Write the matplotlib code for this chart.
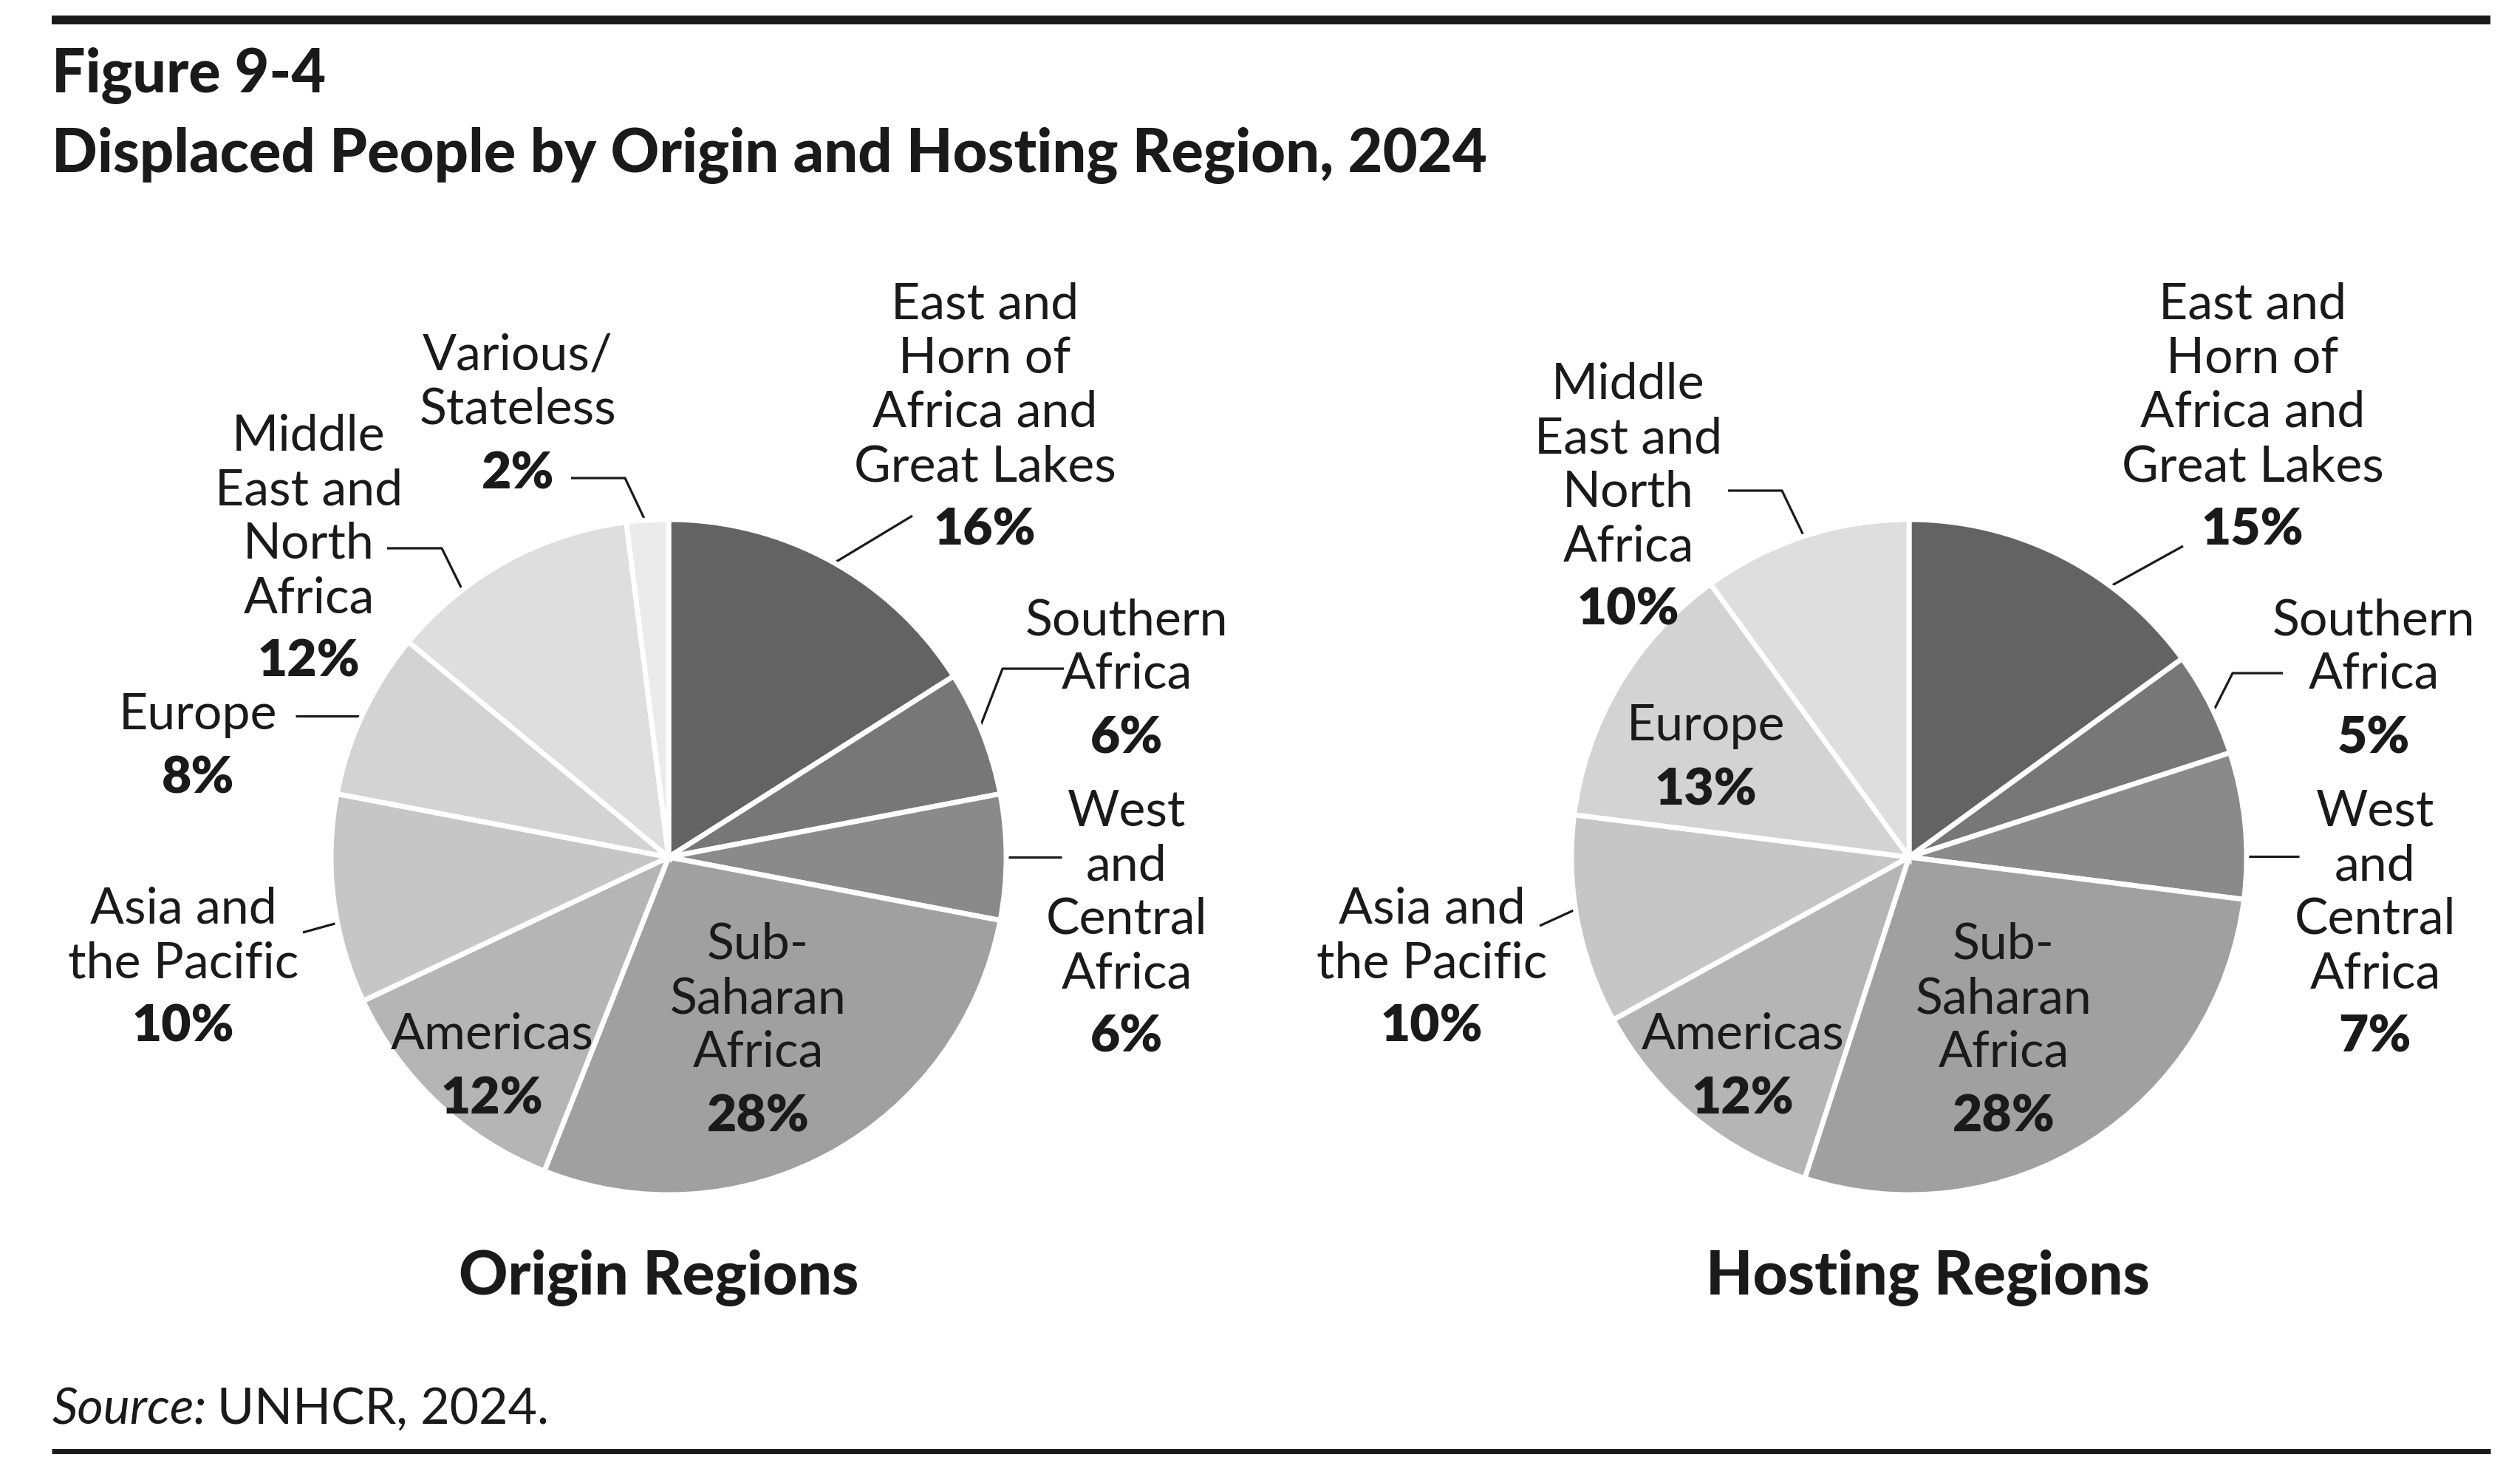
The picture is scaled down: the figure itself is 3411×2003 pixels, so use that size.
import matplotlib
matplotlib.use("Agg")
import matplotlib.pyplot as plt
import numpy as np

# ---------------- data ----------------
origin_labels = ["East and\nHorn of\nAfrica and\nGreat Lakes", "Southern\nAfrica",
                 "West\nand\nCentral\nAfrica", "Sub-\nSaharan\nAfrica", "Americas",
                 "Asia and\nthe Pacific", "Europe", "Middle\nEast and\nNorth\nAfrica",
                 "Various/\nStateless"]
origin_values = [16, 6, 6, 28, 12, 10, 8, 12, 2]

hosting_labels = ["East and\nHorn of\nAfrica and\nGreat Lakes", "Southern\nAfrica",
                  "West\nand\nCentral\nAfrica", "Sub-\nSaharan\nAfrica", "Americas",
                  "Asia and\nthe Pacific", "Europe", "Middle\nEast and\nNorth\nAfrica"]
hosting_values = [15, 5, 7, 28, 12, 10, 13, 10]

title_line1 = "Figure 9-4"
title_line2 = "Displaced People by Origin and Hosting Region, 2024"
pie_titles = ["Origin Regions", "Hosting Regions"]
source_italic = "Source:"
source_rest = "UNHCR, 2024."

# ---------------- style / layout ----------------
W, H = 3412, 2003
INK = "#1a1a1a"
FONT = "Lato"
grey = {"East and\nHorn of\nAfrica and\nGreat Lakes": "#636363",
        "Southern\nAfrica": "#777777",
        "West\nand\nCentral\nAfrica": "#8a8a8a",
        "Sub-\nSaharan\nAfrica": "#a0a0a0",
        "Americas": "#b5b5b5",
        "Asia and\nthe Pacific": "#c6c6c6",
        "Europe": "#d3d3d3",
        "Middle\nEast and\nNorth\nAfrica": "#dedede",
        "Various/\nStateless": "#ebebeb"}

def Y(y):  # top-based pixel -> data y
    return H - y

fig = plt.figure(figsize=(W / 100, H / 100), dpi=100)
ax = fig.add_axes([0, 0, 1, 1])

R = 457
LABEL_PT = 49
PCT_PT = 50
LINE_STEP = 73
PCT_GAP = 87

# label layout: (center x, first baseline y) per slice, top-based pixels
origin_text_pos = [(1333, 432), (1525, 859), (1525, 1118), (1026, 1298), (666, 1420),
                   (248, 1250), (268, 987), (418, 610), (701, 501)]
hosting_text_pos = [(3049, 432), (3213, 859), (3215, 1118), (2712, 1298), (2359, 1420),
                    (1938, 1250), (2309, 1002), (2204, 540)]

# leader lines: (slice index, fraction along wedge from its start, list of outer points)
origin_leaders = [(0, 0.5, [(1235, 698)]),
                  (1, 0.5, [(1357, 905), (1440, 905)]),
                  (2, 0.5, [(1437, None)]),
                  (5, 0.39, [(410, 1262)]),
                  (6, 0.5, [(400, None)]),
                  (7, 0.29, [(598, 742), (524, 742)]),
                  (8, 0.5, [(846, 647), (773, 647)])]
hosting_leaders = [(0, 0.67, [(2955, 739)]),
                   (1, 0.62, [(3022, 911), (3090, 911)]),
                   (2, 0.71, [(3112, None)]),
                   (5, 0.56, [(2084, 1253)]),
                   (7, 0.5, [(2412, 664), (2339, 664)])]

pies = [
    (origin_labels, origin_values, (905, 1160), origin_text_pos, origin_leaders, (892, 1752)),
    (hosting_labels, hosting_values, (2584, 1160), hosting_text_pos, hosting_leaders, (2609, 1752)),
]

for (labels, values, (cx, cy), tpos, leaders, (tx, ty)), ptitle in zip(pies, pie_titles):
    wedges, _ = ax.pie(values, colors=[grey[l] for l in labels], startangle=90,
                       counterclock=False, radius=R, center=(cx, Y(cy)),
                       wedgeprops=dict(edgecolor="white", linewidth=5.0), frame=True)
    for w in wedges:
        w.set_zorder(3)
    # labels
    for lab, val, (x, y0) in zip(labels, values, tpos):
        lines = lab.split("\n")
        for i, ln in enumerate(lines):
            ax.text(x, Y(y0 + i * LINE_STEP), ln, ha="center", va="baseline",
                    fontsize=LABEL_PT, family=FONT, color=INK, zorder=5)
        ax.text(x, Y(y0 + (len(lines) - 1) * LINE_STEP + PCT_GAP), f"{val}%",
                ha="center", va="baseline", fontsize=PCT_PT, family=FONT,
                fontweight="heavy", color=INK, zorder=5)
    # leaders
    for idx, frac, pts in leaders:
        w = wedges[idx]
        ang = np.deg2rad(w.theta2 - frac * (w.theta2 - w.theta1))
        ax0, ay0 = cx + (R - 8) * np.cos(ang), Y(cy) + (R - 8) * np.sin(ang)
        xs, ys = [ax0], [ay0]
        for px, py in pts:
            xs.append(px)
            ys.append(ay0 if py is None else Y(py))
        ax.plot(xs, ys, color=INK, lw=2.3, zorder=2, solid_capstyle="butt")
    ax.text(tx, Y(ty), ptitle, ha="center", va="baseline", fontsize=59,
            family=FONT, fontweight="black", color=INK)

# titles
ax.text(70, Y(125), title_line1, ha="left", va="baseline", fontsize=58,
        family=FONT, fontweight="black", color=INK)
ax.text(70, Y(233), title_line2, ha="left", va="baseline", fontsize=58.5,
        family=FONT, fontweight="black", color=INK)

# rules
ax.plot([70, 3371], [Y(27), Y(27)], color=INK, lw=8.6, solid_capstyle="butt")
ax.plot([70, 3371], [Y(1963.5), Y(1963.5)], color=INK, lw=5, solid_capstyle="butt")

ax.set_xlim(0, W)
ax.set_ylim(0, H)
ax.set_aspect("auto")
ax.axis("off")

# source
t1 = ax.text(71, Y(1927), source_italic, ha="left", va="baseline", fontsize=49,
             family=FONT, style="italic", color=INK)
fig.canvas.draw()
bb = t1.get_window_extent()
ax.text(bb.x1 + 14, Y(1927), source_rest, ha="left", va="baseline", fontsize=49,
        family=FONT, color=INK)

fig.savefig("out.png", dpi=100, facecolor="white")
